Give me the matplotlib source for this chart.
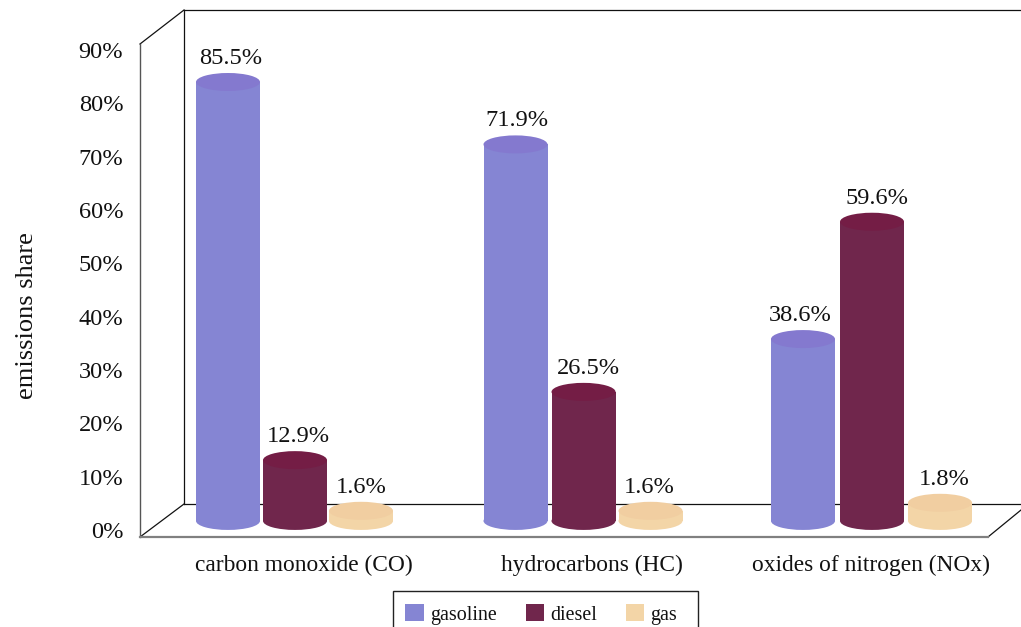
import matplotlib
matplotlib.use("Agg")
import matplotlib.pyplot as plt
from matplotlib.lines import Line2D
from matplotlib.patches import Ellipse, Patch, Rectangle
from matplotlib.transforms import Affine2D

plt.rcParams['font.family'] = ['Liberation Serif', 'DejaVu Serif']

W, H = 1021, 627

# data
categories = ["carbon monoxide (CO)", "hydrocarbons (HC)", "oxides of nitrogen (NOx)"]
series = ["gasoline", "diesel", "gas"]
gasoline = [85.5, 71.9, 38.6]
diesel = [12.9, 26.5, 59.6]
gas = [1.6, 1.6, 1.8]
# where the cylinder tops sit against the printed % scale (the source is a 3D chart,
# so they don't land exactly on the labelled value)
gasoline_top = [84.0, 72.3, 35.8]
diesel_top = [13.1, 25.9, 57.8]
gas_top = [3.6, 3.6, 5.1]
yticks = [0, 10, 20, 30, 40, 50, 60, 70, 80, 90]

body_cols = ["#8585d3", "#70264c", "#f3d5a7"]
top_cols = ["#8479cf", "#741d45", "#f1cea1"]

# pixel layout of the plot
left, right, bottom, top = 140, 988, 537, 44
y0_px, y90_px = 530, 50
unit_y = (y0_px - y90_px) / 90
unit_x = 287.5
x0_px = 295

fig = plt.figure(figsize=(W / 100, H / 100), dpi=100)
ax = fig.add_axes([left / W, 1 - bottom / H, (right - left) / W, (bottom - top) / H])
ax.set_xlim((left - x0_px) / unit_x, (right - x0_px) / unit_x)
ax.set_ylim((y0_px - bottom) / unit_y, (y0_px - top) / unit_y)

for s in ["top", "right"]:
    ax.spines[s].set_visible(False)
ax.spines["left"].set_color("#555555")
ax.spines["left"].set_linewidth(1.0)
ax.spines["bottom"].set_color("#808080")
ax.spines["bottom"].set_linewidth(1.6)
ax.patch.set_visible(False)

ax.set_yticks(yticks)
ax.set_yticklabels([f"{t}%" for t in yticks], fontsize=17.6, color="#111111")
ax.tick_params(axis="y", length=0, pad=12)
ax.set_xticks([0.03, 1.034, 2.005])
ax.set_xticklabels(categories, fontsize=16.8, color="#111111")
ax.tick_params(axis="x", length=0, pad=13)
fig.text(27 / W, 1 - 316 / H, "emissions share", rotation=90, ha="center", va="center",
         fontsize=19, color="#111111")

# back walls and floor, in pixels (behind the axes so the cylinders cover them)
px = Affine2D().scale(1, -1).translate(0, H)
walls = [
    ([140, 184], [44, 10]),
    ([184, 1021], [10, 10]),
    ([184, 184], [10, 504]),
    ([184, 1021], [504, 504]),
    ([140, 184], [537, 504]),
    ([988, 1021], [537, 510]),
]
for xs, ys in walls:
    fig.add_artist(Line2D(xs, ys, color="#111111", lw=0.9, transform=px, zorder=-1))

# cylinders
offsets = [-67 / unit_x, 0, 66 / unit_x]
steps = [1.0, 1.0035, 1.007]
bar_w = 64 / unit_x
ell_h = 18 / unit_y
base = 1.7
# label nudges in px, one row per series, one column per category
label_dx = [[3, 1, -3], [3.5, 5, 4.5], [0.5, -1, 4]]
tops = [gasoline_top, diesel_top, gas_top]
values = [gasoline, diesel, gas]

for i in range(3):
    for j in range(len(categories)):
        x = j * steps[i] + offsets[i]
        t = tops[i][j]
        z = 3 + j * 3 + i
        ax.bar(x, t - base, bar_w, bottom=base, color=body_cols[i], zorder=z)
        ax.add_patch(Ellipse((x, base), bar_w, ell_h, color=body_cols[i], lw=0, zorder=z))
        ax.add_patch(Ellipse((x, t), bar_w, ell_h, color=top_cols[i], lw=0, zorder=z))
        ax.annotate(f"{values[i][j]}%", (x, t), xytext=(label_dx[i][j] * 0.72, 23.5 * 0.72),
                    textcoords="offset points", ha="center", va="center",
                    fontsize=17.6, color="#111111", zorder=30)

# legend box runs off the bottom of the picture
fig.add_artist(Rectangle((393, 591), 305, 50, transform=px, facecolor="white",
                         edgecolor="#222222", lw=1.0))
handles = [Patch(color=c, lw=0) for c in body_cols]
leg = fig.legend(handles, series, ncol=3, loc="upper left",
                 bbox_to_anchor=(393 / W, 1 - 592 / H), borderaxespad=0,
                 fontsize=14.4, frameon=False, borderpad=0.62, handlelength=0.92,
                 handleheight=0.92, handletextpad=0.3, columnspacing=1.45,
                 labelcolor="#111111")

fig.savefig("out.png", dpi=100)
